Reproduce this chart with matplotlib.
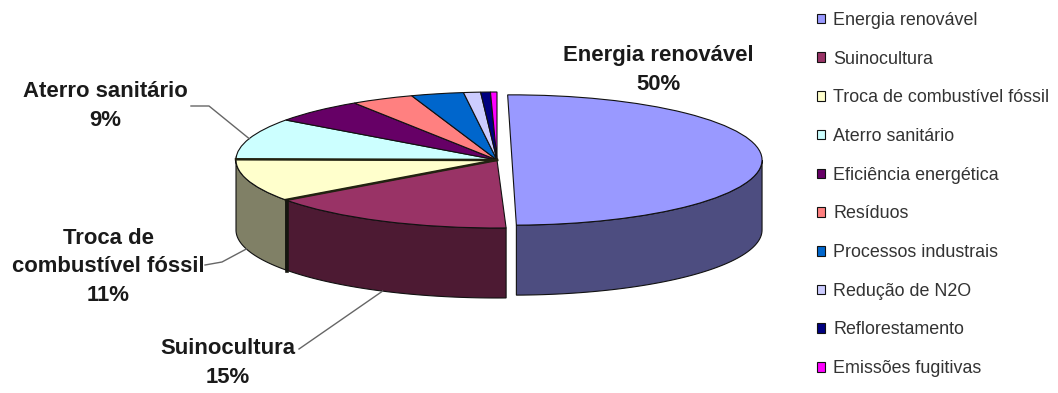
import numpy as np
from matplotlib import pyplot, colors

categories = ['Energia renovável', 'Suinocultura', 'Troca de combustível fóssil', 'Aterro sanitário',
              'Eficiência energética', 'Resíduos', 'Processos industrais', 'Redução de N2O',
              'Reflorestamento', 'Emissões fugitivas']
shares = [50, 15, 11, 9, 5.8, 3.9, 3.25, 1.05, 0.6, 0.4]
slice_colors = ['#9999FF', '#993366', '#FFFFCC', '#CCFFFF', '#660066',
                '#FF8080', '#0066CC', '#CCCCFF', '#000080', '#FF00FF']
explode = [0.0575, 0, 0, 0, 0, 0, 0, 0, 0, 0]

W, H = 1058, 393
CX, CY = 497, 160   # pie apex in pixels
RX, RY = 261, 68    # pixels per data unit
DEPTH = 70 / RY


def px(x, y):
    # picture pixels to data coords
    return (x - CX) / RX, (CY - y) / RY


fig = pyplot.figure(figsize=(W / 100, H / 100), dpi=100, facecolor='white')
ax = fig.add_axes([0, 0, 1, 1])

wedges, _ = ax.pie(shares, colors=slice_colors, explode=explode, startangle=90, counterclock=False,
                   wedgeprops={'edgecolor': '#111111', 'linewidth': 0.8})
ax.set_aspect('auto')
ax.set_xlim(-CX / RX, (W - CX) / RX)
ax.set_ylim((CY - H) / RY, CY / RY)
ax.axis('off')

# big slice is a bit smaller and turned in the original's perspective
wedges[0].set_radius(0.958)
wedges[0].set_theta1(-89)
wedges[0].set_theta2(91)
wedges[1].set_theta2(-88)
wedges[3].set_theta2(wedges[3].theta2 + 3)

# side walls, only the front half shows
for w in wedges:
    lo, hi = max(w.theta1, -180), min(w.theta2, 0)
    if lo >= hi:
        continue
    t = np.radians(np.linspace(lo, hi, 60))
    xs = w.center[0] + w.r * np.cos(t)
    ys = w.center[1] + w.r * np.sin(t)
    wall = 0.5 * np.array(colors.to_rgb(w.get_facecolor()))
    ax.fill(np.r_[xs, xs[::-1]], np.r_[ys, ys[::-1] - DEPTH], facecolor=wall,
            edgecolor='#111111', linewidth=0.8, zorder=0.5)

# heavier seams around the fossil fuel slice
for th in [wedges[1].theta1, wedges[3].theta2]:
    a = np.radians(th)
    ax.plot([0, np.cos(a)], [0, np.sin(a)], color='#222211', linewidth=1.8, zorder=3)
a = np.radians(wedges[1].theta1 + 0.6)
ax.plot([np.cos(a)] * 2, [np.sin(a), np.sin(a) - DEPTH], color='#15150f', linewidth=2.6, zorder=3)

# labels
labels = [('Energia renovável\n50%', 658, 70), ('Aterro sanitário\n9%', 105, 106),
          ('Troca de\ncombustível fóssil\n11%', 108, 267), ('Suinocultura\n15%', 228, 363)]
for txt, x, y in labels:
    ax.text(*px(x, y), txt, ha='center', va='center', fontsize=15.9, fontweight='bold',
            family='Liberation Sans', color='#1a1a1a', linespacing=1.45)


def edge_point(w, drop):
    # middle of the slice's rim, drop=True for the lower rim of the wall
    a = np.radians((w.theta1 + w.theta2) / 2)
    return np.cos(a), np.sin(a) - (DEPTH if drop else 0)


leaders = [(wedges[3], False, [(191, 106), (209, 106)]),
           (wedges[2], True, [(205, 265), (222, 262)]),
           (wedges[1], True, [(299, 349)])]
for w, drop, start in leaders:
    pts = [px(*p) for p in start] + [edge_point(w, drop)]
    ax.plot([p[0] for p in pts], [p[1] for p in pts], color='#666666', linewidth=1, zorder=4)

ax.legend(wedges, categories, loc='upper left', bbox_to_anchor=(817 / W, 1 - 12 / H), frameon=False,
          prop={'family': 'Liberation Sans', 'size': 12.9}, labelcolor='#333333',
          handlelength=0.45, handleheight=0.45, handletextpad=0.45, labelspacing=1.21,
          borderpad=0.0, borderaxespad=0.0)

fig.savefig('out.png', dpi=100, facecolor='white')
pyplot.close()
